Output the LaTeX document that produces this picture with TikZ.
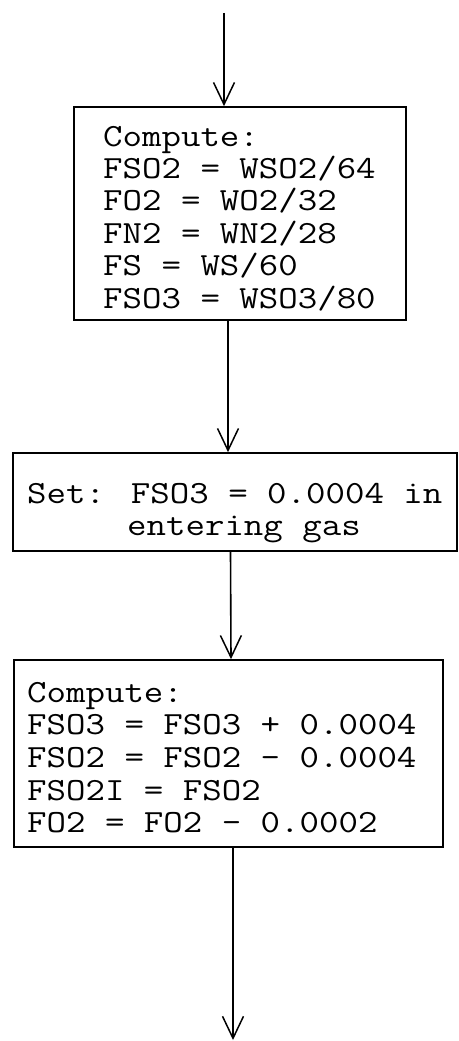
\documentclass[tikz,border=0pt]{standalone}
\usepackage{graphicx}
\usetikzlibrary{arrows.meta}
\newcommand\tw[1]{\scalebox{1.17}[1]{#1}}
\begin{document}
\begin{tikzpicture}[x=1pt,y=-1pt,
  box/.style={draw, line width=1.7pt, rectangle, inner sep=0pt},
  arr/.style={line width=1.6pt, -{Straight Barb[length=22pt,width=21pt,line width=1.5pt]}},
  txt/.style={anchor=base west, inner sep=0pt, font=\ttfamily\fontsize{32.3}{32}\selectfont}]
\useasboundingbox (0,0) rectangle (458,1041);

% boxes
\node[box, minimum width=332pt, minimum height=213pt] (b1) at (240,213.5) {};
\node[box, minimum width=444pt, minimum height=98pt]  (b2) at (235,502) {};
\node[box, minimum width=429pt, minimum height=187pt] (b3) at (228.5,753.5) {};

% free ends
\coordinate (in) at (224,13);
\coordinate (out) at (233,1040);

% texts box 1
\node[txt] (t11) at (103,146) {\tw{Compute:}};
\node[txt] (t12) at (103,178.4) {\tw{FSO2 = WSO2/64}};
\node[txt] (t13) at (103,210.8) {\tw{FO2 = WO2/32}};
\node[txt] (t14) at (103,243.2) {\tw{FN2 = WN2/28}};
\node[txt] (t15) at (103,275.6) {\tw{FS = WS/60}};
\node[txt] (t16) at (103,308) {\tw{FSO3 = WSO3/80}};

% texts box 2
\node[txt] (t21) at (27,503) {\tw{Set: FSO3 = 0.0004 in}};
\node[txt] (t22) at (127,535) {\tw{entering gas}};

% texts box 3
\node[txt] (t31) at (27,702) {\tw{Compute:}};
\node[txt] (t32) at (27,734.7) {\tw{FSO3 = FSO3 + 0.0004}};
\node[txt] (t33) at (27,767.4) {\tw{FSO2 = FSO2 - 0.0004}};
\node[txt] (t34) at (27,800.1) {\tw{FSO2I = FSO2}};
\node[txt] (t35) at (27,832.8) {\tw{FO2 = FO2 - 0.0002}};

% connectors
\draw[arr] (in) -- (in |- b1.north);
\draw[arr] ([xshift=-12pt]b1.south) -- ([xshift=-7pt]b2.north);
\draw[arr] ([xshift=-4.5pt]b2.south) -- ([xshift=2.5pt]b3.north);
\draw[arr] ([xshift=4.5pt]b3.south) -- (out);
\end{tikzpicture}
\end{document}
